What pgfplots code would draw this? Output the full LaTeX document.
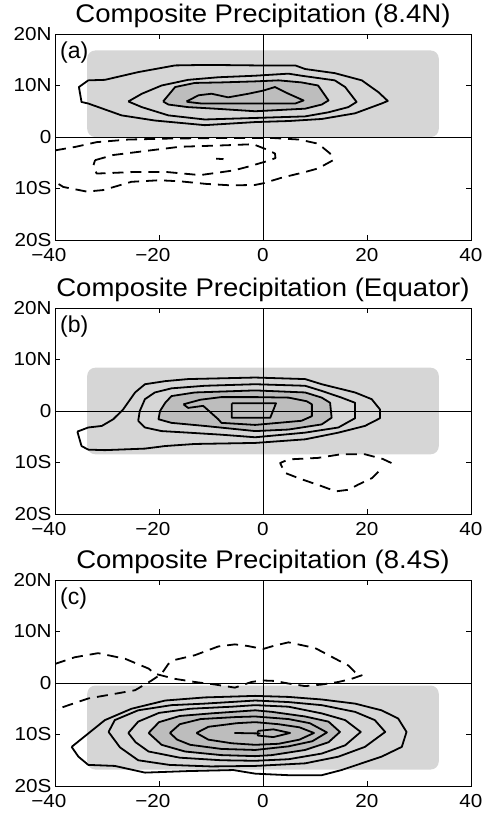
\documentclass[border=0pt]{standalone}
\usepackage{fontspec}
\setmainfont{Liberation Sans}
\usepackage{pgfplots}
\pgfplotsset{compat=1.18}
\definecolor{lg}{gray}{0.84}
\definecolor{dg}{gray}{0.74}
\newcommand{\w}[1]{\scalebox{1.1}[1]{#1}}
\pgfplotsset{
  panel/.style={
    width=416pt, height=206pt, scale only axis,
    xmin=-40, xmax=40, ymin=-20, ymax=20,
    xtick={-40,-20,0,20,40},
    xticklabels={\llap{\w{−}}\w{40},\llap{\w{−}}\w{20},\w{0},\w{20},\w{40}},
    ytick={-20,-10,0,10,20},
    yticklabels={\w{20S},\w{10S},\w{0},\w{10N},\w{20N}},
    tick align=inside, major tick length=5pt,
    tick style={black, line width=0.6pt},
    axis line style={line width=0.8pt},
    ticklabel style={font=\fontsize{18.8}{20}\selectfont},
    xticklabel style={yshift=-5pt},
    title style={font=\fontsize{25.5}{28}\selectfont, at={(0.5,1)}, anchor=base, yshift=6pt},
  },
  cont/.style={black, line width=1.8pt, line join=round, no markers},
  dsh/.style={cont, dash pattern=on 11pt off 7pt},
  zl/.style={black, line width=0.8pt, no markers},
}
\begin{document}
\begin{tikzpicture}
\useasboundingbox (0,0) rectangle (482pt,-816pt);
% ---------------- panel (a)
\begin{axis}[panel, at={(55pt,-34pt)}, anchor=north west, title={\scalebox{1.08}[1]{Composite Precipitation (8.4N)}}]
\addplot[fill=lg, draw=none, rounded corners=8pt] coordinates {(-33.8,0) (33.8,0) (33.8,16.8) (-33.8,16.8)} --cycle;
\addplot[fill=dg, draw=none] coordinates {(-19.2,6.9) (-16.9,9.7) (-13.1,10.5) (-8,10.6) (-1.5,10.8) (3,11) (7.4,10.6) (10.6,10) (12.6,7.1) (11.3,6.3) (8.1,5.5) (-1.5,5) (-9.2,5.5) (-14.4,5.8) (-18.2,6.3)} --cycle;
\addplot[zl] coordinates {(0,-20) (0,20)};
\addplot[zl] coordinates {(-40,0) (40,0)};
\addplot[cont] coordinates {(-33.6,11.0) (-30.4,11.1) (-24,12.6) (-16.9,13.9) (-10.8,14) (-1.5,13.9) (6.2,13.9) (8.1,13.2) (13.8,12.4) (19,11) (22.2,8.7) (24,7.0) (22.8,6.5) (17.7,4.6) (11.3,3.5) (4.9,3.1) (-1.5,2.9) (-11.2,2.3) (-20.8,3.2) (-27.2,4.2) (-33.6,6.5) (-34.9,6.8) (-35.4,9.7) (-33.6,11.0)};
\addplot[cont] coordinates {(-25.9,6.9) (-23.3,8.4) (-19.5,10) (-14.4,11.1) (-8.6,11.6) (-1.5,11.9) (4.9,12.3) (7.4,11.9) (13.8,11) (15.8,9.7) (18,6.8) (16.4,5.8) (12.6,4.8) (8.1,4) (-1.5,3.7) (-11.2,3.4) (-18.2,4.2) (-23.3,5.8) (-25.9,6.9)};
\addplot[cont] coordinates {(-19.2,6.9) (-16.9,9.7) (-13.1,10.5) (-8,10.6) (-1.5,10.8) (3,11) (7.4,10.6) (10.6,10) (12.6,7.1) (11.3,6.3) (8.1,5.5) (-1.5,5) (-9.2,5.5) (-14.4,5.8) (-18.2,6.3) (-19.2,6.9)};
\addplot[cont] coordinates {(-14.7,6.9) (-12.4,8.1) (-9.9,8.4) (-6.7,7.7) (-2.8,8.4) (0,9) (2.3,9.7) (4.9,8.4) (7.8,7.1) (6.2,6.5) (-1.5,6.5) (-11.8,6.5) (-14.4,6.8) (-14.7,6.9)};
\addplot[dsh] coordinates {(-40,-2.6) (-36,-1.9) (-32,-1.0) (-26,-0.5) (-18,-0.3) (-8,-0.2) (2,-0.2) (7,-0.5) (10.6,-1.3) (12.9,-3.2) (13.5,-4.5) (10.6,-6.1) (8.1,-6.8) (3.6,-7.9) (0,-9) (-1.5,-9.3) (-6,-9.4) (-11,-9.1) (-16,-8.6) (-20,-8.4) (-25.3,-8.7) (-30.7,-10.3) (-33.9,-10.6) (-38.4,-9.7) (-40,-8.7)};
\addplot[dsh] coordinates {(-32.3,-4.5) (-28.8,-3.5) (-21.7,-2.6) (-16,-1.9) (-7,-1.6) (-1.9,-1.4) (0.4,-2.3) (2.3,-3.2) (2.4,-4.1) (0.4,-4.8) (-3,-5.8) (-5.7,-6.5) (-12.1,-7.4) (-18.5,-6.8) (-24.9,-6.8) (-32,-7.1) (-32.6,-5.5) (-32.3,-4.5)};
\addplot[cont] coordinates {(-9,-4.2) (-7.6,-4.3)};
\node[anchor=north west, inner sep=0pt, xshift=5pt, yshift=-8pt, font=\fontsize{23}{24}\selectfont] at (rel axis cs:0,1) {(a)};
\end{axis}
% ---------------- panel (b)
\begin{axis}[panel, at={(55pt,-308pt)}, anchor=north west, title={\scalebox{1.08}[1]{Composite Precipitation (Equator)}}]
\addplot[fill=lg, draw=none, rounded corners=8pt] coordinates {(-33.8,-8.4) (33.8,-8.4) (33.8,8.4) (-33.8,8.4)} --cycle;
\addplot[fill=dg, draw=none] coordinates {(-18.8,1.6) (-17.6,2.9) (-13.1,3.6) (-1.5,4) (8.1,3.6) (11.3,2.6) (12.9,1.6) (13.2,-1.3) (11.3,-2.6) (4.9,-3.6) (-1.5,-3.9) (-11.2,-2.9) (-17.6,-2.3) (-20.1,-1.6) (-19.8,0)} --cycle;
\addplot[zl] coordinates {(0,-20) (0,20)};
\addplot[zl] coordinates {(-40,0) (40,0)};
\addplot[cont] coordinates {(-35.7,-4.0) (-33.6,-3.2) (-31,-2.9) (-28.8,-1.6) (-26.9,0.3) (-24.6,3.6) (-22.7,5.2) (-18.8,5.8) (-14.4,6.2) (-1.5,6.5) (8.1,6.2) (11.3,5.2) (17.7,3.6) (20.9,2.3) (22.5,0.3) (22.5,-1.4) (19.6,-2.9) (14.5,-4.2) (8.1,-5.5) (-1.5,-6.2) (-13.1,-6.4) (-18.8,-6.8) (-22.7,-7.3) (-30.4,-7.6) (-33.6,-7.5) (-34.9,-6.8) (-35.7,-4.0)};
\addplot[cont] coordinates {(-24,-1.9) (-23.7,0) (-22.7,2.3) (-20.8,3.6) (-17.6,4.4) (-11.2,4.9) (-1.5,5.2) (8.1,4.9) (11.3,3.9) (15.1,2.6) (17.7,1.6) (17.7,-1.4) (14.5,-3.2) (8.1,-4.2) (-1.5,-5.1) (-8,-4.6) (-14.4,-4.2) (-19.5,-3.9) (-22.7,-3.2) (-24,-1.9)};
\addplot[cont] coordinates {(-18.8,1.6) (-17.6,2.9) (-13.1,3.6) (-1.5,4) (8.1,3.6) (11.3,2.6) (12.9,1.6) (13.2,-1.3) (11.3,-2.6) (4.9,-3.6) (-1.5,-3.9) (-11.2,-2.9) (-17.6,-2.3) (-20.1,-1.6) (-19.8,0) (-18.8,1.6)};
\addplot[cont] coordinates {(-15.3,1.3) (-12,2.2) (-8,2.7) (-1.5,2.7) (4.9,2.6) (8.4,1.9) (9.4,1.3) (9.4,-1) (7.4,-1.9) (-1.5,-2.7) (-8,-2.3) (-8.6,-1.6) (-11.5,1) (-14.4,0.6) (-15.3,1.3)};
\addplot[cont] coordinates {(-6,1.5) (2.5,1.5) (1.4,-1.3) (-6,-1.3) (-6,1.5)};
\addplot[dsh] coordinates {(24.7,-10.1) (23,-9.3) (19.6,-8.4) (15,-8.4) (10.6,-9.1) (4.9,-9.4) (3.3,-10.1) (4.2,-12) (7,-13.1) (11.3,-14.6) (14,-15.6) (16.4,-15.3) (18.3,-14.3) (21,-13) (22.5,-11.5)};
\node[anchor=north west, inner sep=0pt, xshift=5pt, yshift=-8pt, font=\fontsize{23}{24}\selectfont] at (rel axis cs:0,1) {(b)};
\end{axis}
% ---------------- panel (c)
\begin{axis}[panel, at={(55pt,-580pt)}, anchor=north west, title={\scalebox{1.08}[1]{Composite Precipitation (8.4S)}}]
\addplot[fill=lg, draw=none, rounded corners=8pt] coordinates {(-33.8,-16.8) (33.8,-16.8) (33.8,-0.5) (-33.8,-0.5)} --cycle;
\addplot[fill=dg, draw=none] coordinates {(-22,-9.7) (-20,-7.6) (-16,-6.4) (-10,-5.9) (-1.5,-5.3) (1.7,-5.6) (8.1,-6.5) (12.6,-7.5) (14.8,-9.5) (12.6,-11.5) (8.1,-13) (1.7,-14) (-1.5,-14.2) (-8,-14) (-15,-13.3) (-19.5,-12)} --cycle;
\addplot[zl] coordinates {(0,-20) (0,20)};
\addplot[zl] coordinates {(-40,0) (40,0)};
\addplot[cont] coordinates {(-36.8,-12.4) (-33.6,-9.8) (-30.4,-7.2) (-25.3,-5) (-18.8,-3.4) (-11.2,-2.8) (-1.5,-2.5) (4.9,-2.7) (11.3,-3.2) (17.7,-4) (22.8,-5.3) (26,-6.9) (27.6,-9.5) (26.7,-12.4) (22.8,-14.3) (15.1,-16.9) (11.3,-17.9) (4.9,-17.9) (-1.5,-17.6) (-5.7,-16.9) (-14.4,-17.1) (-22.7,-17.4) (-28.5,-16.1) (-33.6,-15.9) (-35.5,-14.3) (-36.8,-12.4)};
\addplot[cont] coordinates {(-29.7,-9.5) (-28.5,-7.2) (-24,-5.3) (-17.6,-4.3) (-11.2,-4) (-1.5,-3.4) (4.9,-3.7) (11.3,-4.3) (17.7,-5.6) (21.5,-7.2) (23.5,-9.5) (19.6,-12.4) (14.5,-14.3) (8.1,-15.6) (-1.5,-16.1) (-10,-16.2) (-18,-15.9) (-24,-15) (-27.5,-12.5) (-29.7,-9.5)};
\addplot[cont] coordinates {(-25.9,-9.7) (-24,-7.5) (-20,-5.8) (-14,-5) (-6,-4.6) (-1.5,-4.3) (4.9,-4.6) (11.3,-5.9) (15.8,-7.2) (18.8,-9.5) (15.8,-12.1) (11.3,-13.7) (4.9,-14.8) (-1.5,-15.1) (-8,-15) (-16,-14.5) (-22,-13.3) (-24.5,-11.5) (-25.9,-9.7)};
\addplot[cont] coordinates {(-22,-9.7) (-20,-7.6) (-16,-6.4) (-10,-5.9) (-1.5,-5.3) (1.7,-5.6) (8.1,-6.5) (12.6,-7.5) (14.8,-9.5) (12.6,-11.5) (8.1,-13) (1.7,-14) (-1.5,-14.2) (-8,-14) (-15,-13.3) (-19.5,-12) (-22,-9.7)};
\addplot[cont] coordinates {(-17.9,-9.7) (-16,-8) (-12,-7) (-5,-6.6) (-1.5,-6.5) (4.9,-7) (9,-7.8) (12.3,-9.6) (9.5,-11.3) (4.9,-12.3) (-1.5,-13) (-8,-12.8) (-14,-12) (-16.5,-11) (-17.9,-9.7)};
\addplot[cont] coordinates {(-12.8,-9.7) (-10.5,-8.5) (-5,-7.8) (-1.5,-7.6) (3,-8) (7,-8.6) (9.8,-9.7) (7,-11) (3,-11.8) (-1.5,-12) (-6,-11.7) (-10.5,-11) (-12.8,-9.7)};
\addplot[cont] coordinates {(-1,-9.3) (2,-9) (5.2,-9.7) (2,-10.5) (-1,-10.2) (-1,-9.3)};
\addplot[cont] coordinates {(-5.5,-9.7) (-0.5,-9.8)};
\addplot[dsh] coordinates {(-40,3.7) (-36.2,5) (-31.7,5.8) (-26.5,4.7) (-22,2.8) (-20.8,1.8) (-16.9,0.8) (-13.1,0.2) (-9.2,-0.3) (-5.4,-0.9) (-2.2,0.2) (-0.3,0.5) (2.3,0.4) (4.9,-0.1) (8.1,-0.6) (11.3,-0.3) (14.5,0.2) (17,0.8) (19,1.5) (17.7,2.1) (16.4,3.4) (14.5,4.4) (10,6.8) (4.9,7.9) (2,7.2) (0,6.6) (-3,7.2) (-5.4,7.5) (-8.6,7.1) (-13.1,5.4) (-16.9,4.5) (-18.2,3.7) (-19.5,1.8) (-21.4,0.5) (-24.6,-1.4) (-28.5,-2.1) (-33.6,-3) (-40,-5.2)};
\node[anchor=north west, inner sep=0pt, xshift=5pt, yshift=-8pt, font=\fontsize{23}{24}\selectfont] at (rel axis cs:0,1) {(c)};
\end{axis}
\end{tikzpicture}
\end{document}
